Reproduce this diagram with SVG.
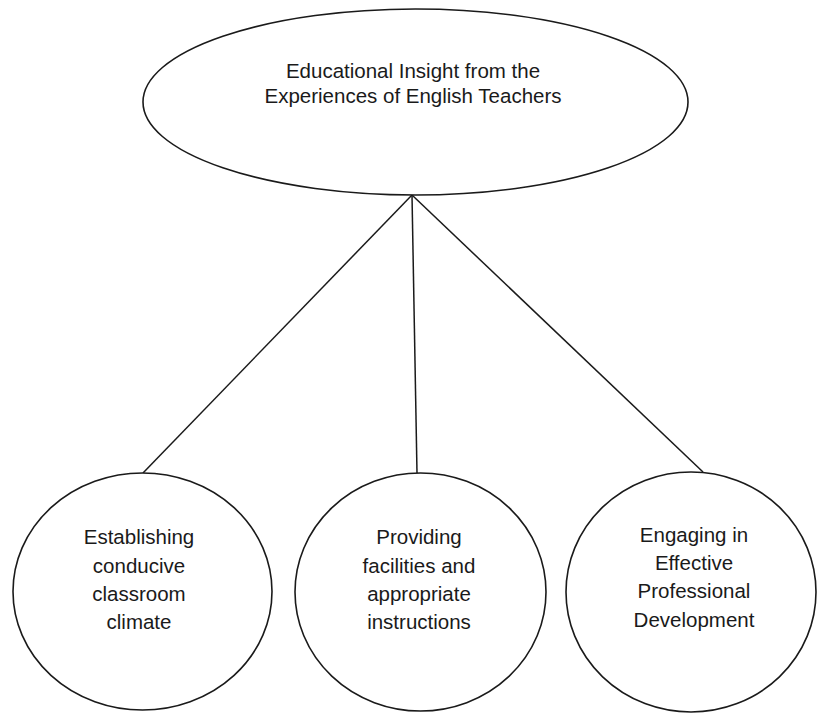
<svg xmlns="http://www.w3.org/2000/svg" width="817" height="713" viewBox="0 0 817 713">
  <style>
    .shape { fill: #ffffff; stroke: #1a1a1a; stroke-width: 1.6; }
    .link { stroke: #1a1a1a; stroke-width: 1.5; fill: none; }
    .label { font-family: "Liberation Sans", Arial, sans-serif; font-size: 20.5px; fill: #1a1a1a; text-anchor: middle; }
  </style>
  <rect width="817" height="713" fill="#ffffff"/>

  <!-- connectors from the main theme down to each sub-theme -->
  <g id="connectors">
    <line class="link" x1="412" y1="195" x2="143" y2="473"/>
    <line class="link" x1="412" y1="195" x2="417" y2="473"/>
    <line class="link" x1="412" y1="195" x2="703" y2="472"/>
  </g>

  <g id="main-theme">
    <ellipse class="shape" cx="415.5" cy="102" rx="272.5" ry="93"/>
    <text class="label" x="413" y="78">Educational Insight from the</text>
    <text class="label" x="413" y="103">Experiences of English Teachers</text>
  </g>

  <g id="classroom-climate">
    <ellipse class="shape" cx="142.5" cy="591.5" rx="129.5" ry="118.5"/>
    <text class="label" x="139" y="544">Establishing</text>
    <text class="label" x="139" y="573">conducive</text>
    <text class="label" x="139" y="601">classroom</text>
    <text class="label" x="139" y="629">climate</text>
  </g>

  <g id="facilities-instructions">
    <ellipse class="shape" cx="420.5" cy="592" rx="125.5" ry="119"/>
    <text class="label" x="419" y="544">Providing</text>
    <text class="label" x="419" y="573">facilities and</text>
    <text class="label" x="419" y="601">appropriate</text>
    <text class="label" x="419" y="629">instructions</text>
  </g>

  <g id="professional-development">
    <ellipse class="shape" cx="691" cy="592" rx="125" ry="120"/>
    <text class="label" x="694" y="542">Engaging in</text>
    <text class="label" x="694" y="570">Effective</text>
    <text class="label" x="694" y="598">Professional</text>
    <text class="label" x="694" y="627">Development</text>
  </g>
</svg>
